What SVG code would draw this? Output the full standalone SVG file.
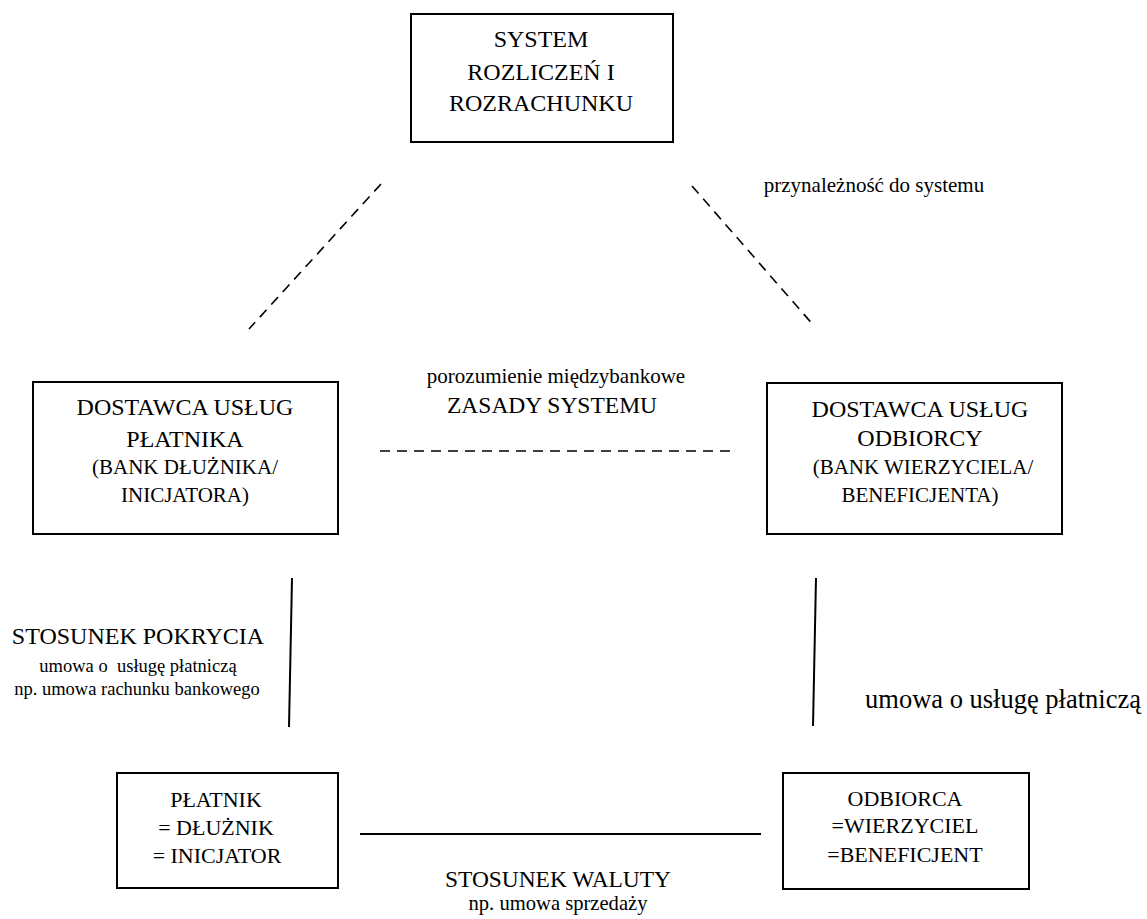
<svg xmlns="http://www.w3.org/2000/svg" width="1147" height="919" viewBox="0 0 1147 919">
<style>
rect.box{fill:#fff;stroke:#000;stroke-width:2}
text{font-family:"Liberation Serif","Times New Roman",serif;fill:#000;text-anchor:middle}
.big{font-size:24px}
.mid{font-size:21px}
.bx{font-size:22px}
.dash{stroke:#000;stroke-width:1.6;stroke-dasharray:10 7;fill:none}
.solid{stroke:#000;stroke-width:2;fill:none}
</style>
<rect width="1147" height="919" fill="#fff"/>
<g id="connectors">
<line class="dash" x1="381" y1="184" x2="249" y2="329"/>
<line class="dash" x1="692" y1="186" x2="815" y2="327"/>
<line class="dash" x1="380" y1="451" x2="732" y2="451"/>
<line class="solid" x1="292" y1="578" x2="289" y2="727"/>
<line class="solid" x1="816" y1="578" x2="813" y2="726"/>
<line class="solid" x1="360" y1="834" x2="761" y2="834"/>
<text x="874" y="192" font-size="21" text-anchor="middle">przynależność do systemu</text>
<text x="556" y="383" font-size="21">porozumienie międzybankowe</text>
<text x="552" y="413" font-size="23.5">ZASADY SYSTEMU</text>
<text x="138" y="644" class="big">STOSUNEK POKRYCIA</text>
<text x="138" y="672" font-size="18.5" xml:space="preserve" style="white-space:pre">umowa o  usługę płatniczą</text>
<text x="137" y="695" font-size="18.5">np. umowa rachunku bankowego</text>
<text x="1003" y="708" font-size="26.5">umowa o usługę płatniczą</text>
<text x="558" y="887" font-size="23.4">STOSUNEK WALUTY</text>
<text x="558" y="910" font-size="20.6">np. umowa sprzedaży</text>
</g>
<g id="system">
<rect class="box" x="411" y="14" width="262" height="128"/>
<text x="541" y="47" class="big">SYSTEM</text>
<text x="541" y="80" class="big">ROZLICZEŃ I</text>
<text x="541" y="111" class="big">ROZRACHUNKU</text>
</g>
<g id="dostawca-platnika">
<rect class="box" x="33" y="382" width="305" height="152"/>
<text x="185" y="415" class="big">DOSTAWCA USŁUG</text>
<text x="185" y="447" class="big">PŁATNIKA</text>
<text x="185" y="474" class="mid">(BANK DŁUŻNIKA/</text>
<text x="185" y="502" class="mid">INICJATORA)</text>
</g>
<g id="dostawca-odbiorcy">
<rect class="box" x="767" y="383" width="295" height="151"/>
<text x="920" y="417" class="big">DOSTAWCA USŁUG</text>
<text x="920" y="446" class="big">ODBIORCY</text>
<text x="923" y="474" class="mid">(BANK WIERZYCIELA/</text>
<text x="920" y="502" class="mid">BENEFICJENTA)</text>
</g>
<g id="platnik">
<rect class="box" x="117" y="773" width="221" height="115"/>
<text x="216" y="807" class="bx">PŁATNIK</text>
<text x="216" y="835" class="bx">= DŁUŻNIK</text>
<text x="217" y="863" class="bx">= INICJATOR</text>
</g>
<g id="odbiorca">
<rect class="box" x="783" y="773" width="246" height="116"/>
<text x="905" y="806" class="bx">ODBIORCA</text>
<text x="905" y="833" class="bx">=WIERZYCIEL</text>
<text x="905" y="862" class="bx">=BENEFICJENT</text>
</g>
</svg>
